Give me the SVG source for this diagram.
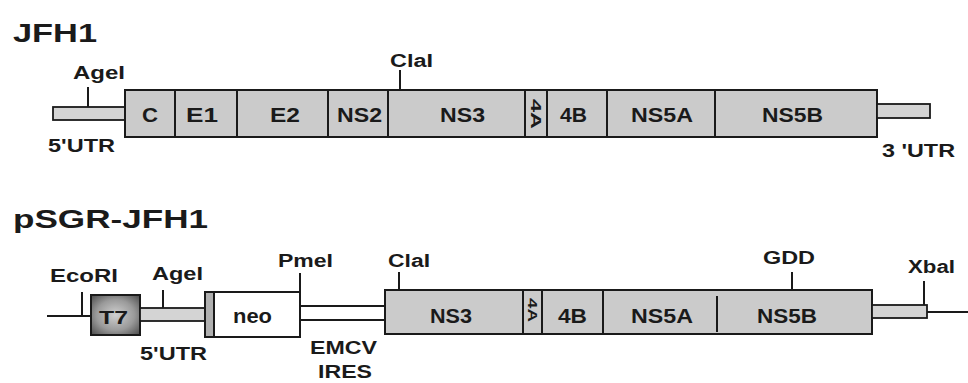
<svg xmlns="http://www.w3.org/2000/svg" width="968" height="383" viewBox="0 0 968 383">
<defs>
<radialGradient id="t7g" cx="0.5" cy="0.5" r="0.7">
<stop offset="0" stop-color="#d0d0d0"/>
<stop offset="0.55" stop-color="#9a9a9a"/>
<stop offset="1" stop-color="#4a4a4a"/>
</radialGradient>
<style>
.t{font-family:"Liberation Sans",Arial,sans-serif;font-weight:bold;fill:#1a1a1a}
.title{font-size:26px}
.lbl{font-size:18px}
.seg{font-size:20px}
.box{fill:#cbcbcb;stroke:#1a1a1a;stroke-width:2}
.utr{fill:#d4d4d4;stroke:#1a1a1a;stroke-width:1.8}
.ln{stroke:#1a1a1a;stroke-width:2;fill:none}
</style>
</defs>
<rect width="968" height="383" fill="#fff"/>

<g id="jfh1">
<text class="t title" x="13" y="42" textLength="84" lengthAdjust="spacingAndGlyphs">JFH1</text>
<g id="jfh1-5utr">
<rect class="utr" x="53" y="107" width="72" height="13"/>
<line class="ln" x1="88" y1="87" x2="88" y2="107"/>
<text class="t lbl" x="73" y="79" textLength="52" lengthAdjust="spacingAndGlyphs">AgeI</text>
<text class="t lbl" x="48" y="152" font-size="19" textLength="67" lengthAdjust="spacingAndGlyphs">5'UTR</text>
</g>
<g id="jfh1-orf">
<rect class="box" x="125" y="90" width="752" height="47"/>
<path class="ln" d="M175 90V137M237 90V137M328 90V137M388 90V137M525 90V137M547 90V137M607 90V137M715 90V137"/>
<line class="ln" x1="400" y1="70" x2="400" y2="90"/>
<text class="t lbl" x="390" y="67" textLength="43" lengthAdjust="spacingAndGlyphs">ClaI</text>
<text class="t seg" x="142" y="122" textLength="16" lengthAdjust="spacingAndGlyphs">C</text>
<text class="t seg" x="186" y="122" textLength="32" lengthAdjust="spacingAndGlyphs">E1</text>
<text class="t seg" x="270" y="122" textLength="30" lengthAdjust="spacingAndGlyphs">E2</text>
<text class="t seg" x="337" y="122" textLength="45" lengthAdjust="spacingAndGlyphs">NS2</text>
<text class="t seg" x="440" y="122" textLength="45" lengthAdjust="spacingAndGlyphs">NS3</text>
<text class="t" font-size="14" transform="translate(531,99) rotate(90)" textLength="30" lengthAdjust="spacingAndGlyphs">4A</text>
<text class="t seg" x="560" y="122" textLength="27" lengthAdjust="spacingAndGlyphs">4B</text>
<text class="t seg" x="631" y="122" textLength="62" lengthAdjust="spacingAndGlyphs">NS5A</text>
<text class="t seg" x="762" y="122" textLength="61" lengthAdjust="spacingAndGlyphs">NS5B</text>
</g>
<g id="jfh1-3utr">
<rect class="utr" x="877" y="104" width="53" height="14"/>
<text class="t lbl" x="882" y="157" font-size="19" textLength="73" lengthAdjust="spacingAndGlyphs">3 'UTR</text>
</g>
</g>

<g id="connectors">
<line class="ln" x1="47" y1="316" x2="91" y2="316"/>
<line class="ln" x1="300" y1="306" x2="385" y2="306"/>
<line class="ln" x1="300" y1="320" x2="385" y2="320"/>
<line class="ln" x1="927" y1="312" x2="968" y2="312"/>
</g>

<g id="psgr">
<text class="t title" x="13" y="228" font-size="25" textLength="195" lengthAdjust="spacingAndGlyphs">pSGR-JFH1</text>
<g id="ecori">
<line class="ln" x1="82" y1="292" x2="82" y2="316"/>
<text class="t lbl" x="50" y="282" textLength="68" lengthAdjust="spacingAndGlyphs">EcoRI</text>
</g>
<g id="t7">
<rect x="91" y="295" width="49" height="40" fill="url(#t7g)" stroke="#1a1a1a" stroke-width="2"/>
<text class="t" x="99" y="324" font-size="18" font-weight="normal" fill="#333" textLength="29" lengthAdjust="spacingAndGlyphs">T7</text>
</g>
<g id="psgr-5utr">
<rect class="utr" x="140" y="308" width="65" height="13"/>
<line class="ln" x1="163" y1="290" x2="163" y2="308"/>
<text class="t lbl" x="152" y="280" textLength="51" lengthAdjust="spacingAndGlyphs">AgeI</text>
<text class="t lbl" x="140" y="360" font-size="19" textLength="67" lengthAdjust="spacingAndGlyphs">5'UTR</text>
</g>
<g id="neo">
<rect x="205" y="292" width="9" height="45" fill="#b0b0b0" stroke="#1a1a1a" stroke-width="2"/>
<rect x="214" y="292" width="86" height="45" fill="#fff" stroke="#1a1a1a" stroke-width="2"/>
<text class="t" x="233" y="323" font-size="21" font-weight="normal" textLength="39" lengthAdjust="spacingAndGlyphs">neo</text>
<line class="ln" x1="300" y1="273" x2="300" y2="292"/>
<text class="t lbl" x="278" y="267" textLength="55" lengthAdjust="spacingAndGlyphs">PmeI</text>
</g>
<g id="emcv">
<text class="t lbl" x="310" y="354" font-size="19" textLength="67" lengthAdjust="spacingAndGlyphs">EMCV</text>
<text class="t lbl" x="318" y="378" font-size="18" textLength="54" lengthAdjust="spacingAndGlyphs">IRES</text>
</g>
<g id="psgr-ns">
<rect class="box" x="385" y="290" width="487" height="44"/>
<path class="ln" d="M523 290V334M542 290V334M603 290V334M717 296V332"/>
<line class="ln" x1="399" y1="272" x2="399" y2="290"/>
<text class="t lbl" x="388" y="267" textLength="42" lengthAdjust="spacingAndGlyphs">ClaI</text>
<line class="ln" x1="792" y1="272" x2="792" y2="290"/>
<text class="t lbl" x="763" y="264" textLength="52" lengthAdjust="spacingAndGlyphs">GDD</text>
<text class="t seg" x="430" y="323" textLength="42" lengthAdjust="spacingAndGlyphs">NS3</text>
<text class="t" font-size="13" transform="translate(528,298) rotate(90)" textLength="24" lengthAdjust="spacingAndGlyphs">4A</text>
<text class="t seg" x="558" y="323" textLength="29" lengthAdjust="spacingAndGlyphs">4B</text>
<text class="t seg" x="631" y="323" textLength="62" lengthAdjust="spacingAndGlyphs">NS5A</text>
<text class="t seg" x="757" y="323" textLength="60" lengthAdjust="spacingAndGlyphs">NS5B</text>
</g>
<g id="psgr-3utr">
<rect class="utr" x="872" y="305" width="55" height="13"/>
<line class="ln" x1="924" y1="281" x2="924" y2="305"/>
<text class="t lbl" x="908" y="273" textLength="47" lengthAdjust="spacingAndGlyphs">XbaI</text>
</g>
</g>
</svg>
